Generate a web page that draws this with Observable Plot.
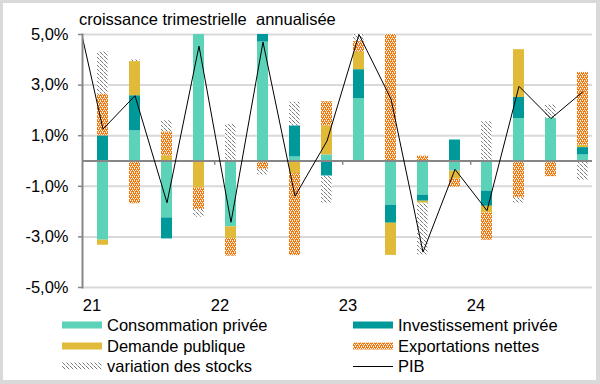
<!DOCTYPE html>
<html><head><meta charset="utf-8">
<script src="https://cdn.jsdelivr.net/npm/d3@7"></script>
<script src="https://cdn.jsdelivr.net/npm/@observablehq/plot@0.6"></script>
<style>
body{margin:0;font-family:"Liberation Sans",Arial,sans-serif;background:#fff}
#wrap{position:relative;width:600px;height:384px;overflow:hidden;background:#fff}
#chart{position:absolute;left:0;top:0}
#border{position:absolute;left:0;top:0;width:600px;height:384px;box-sizing:border-box;border-style:solid;border-color:#d9d9d9;border-width:3px 4px 4px 3px;pointer-events:none}
#title{position:absolute;left:79px;top:11px;font-size:16.5px;line-height:16px;white-space:pre;color:#000}
.leg{position:absolute;height:16px;font-size:16.5px;line-height:16px;display:flex;align-items:center;white-space:nowrap;color:#000}
.leg svg{margin-right:5px;display:block}
</style></head>
<body>
<svg width="0" height="0" style="position:absolute">
<defs>
<pattern id="pExp" width="4" height="4" patternUnits="userSpaceOnUse"><rect width="4" height="4" fill="#f07a10"/><rect x="0" y="0" width="1" height="1" fill="#ffffff"/><rect x="2" y="0" width="1" height="1" fill="#ffffff"/><rect x="1" y="2" width="1" height="1" fill="#ffffff"/><rect x="3" y="2" width="1" height="1" fill="#ffffff"/><rect x="0" y="1" width="1" height="1" fill="#fbd9b8"/><rect x="2" y="3" width="1" height="1" fill="#fbd9b8"/></pattern>
<pattern id="pStk" width="4" height="4" patternUnits="userSpaceOnUse"><rect width="4" height="4" fill="#ffffff"/><path d="M0,0L3.5,3.5" stroke="#7a7a7a" stroke-width="1"/></pattern>
</defs></svg>
<div id="wrap">
<div id="chart"></div>
<div id="title">croissance trimestrielle  annualisée</div>
<div id="legend"></div>
<div id="border"></div>
</div>
<script>
// Quarters (first one only carries the PIB line entering from the left edge)
const quarters = ["20T4","21T1","21T2","21T3","21T4","22T1","22T2","22T3","22T4","23T1","23T2","23T3","23T4","24T1","24T2","24T3","24T4"];
const barQuarters = quarters.slice(1);
const yearTicks = ["21T1","22T1","23T1","24T1"];
const yearLabels = ["21","22","23","24"];
const yTicks = [-5,-3,-1,1,3,5];

const seriesNames = ["Consommation privée","Investissement privée","Demande publique","Exportations nettes","variation des stocks"];
const seriesFills = ["#5cd3b8","#00999a","#e2ba3a","url(#pExp)","url(#pStk)"];

const consommation = [-3.13, 1.19, -2.25, 6.7, -2.6, 4.7, 0.16, 0.24, 2.47, -1.75, -1.35, -0.4, -1.19, 1.68, 1.69, 0.24];
const investissement = [0.99, 1.39, -0.83, -0.04, 0, 0.55, 1.23, -0.6, 1.14, -0.71, -0.24, 0.83, -0.6, 0.83, 0, 0.29];
const demandePublique = [-0.2, 1.35, 0.2, -1.03, -0.46, 0, -0.5, 1.15, 0.69, -1.27, -0.08, -0.32, -0.26, 1.89, 0, 0.09];
const exportations = [1.65, -1.69, 0.95, -0.85, -0.7, -0.33, -3.24, 0.95, 0.42, 6.2, 0.19, -0.32, -1.08, -1.46, -0.62, 2.88];
const stocks = [1.68, 0.08, 0.44, -0.3, 1.45, -0.22, 0.93, -1.06, 0.28, 0, -2.04, 0, 1.55, -0.2, 0.52, -0.77];
const pib = [6.9, 1.26, 2.58, -1.65, 4.54, -2.42, 4.7, -1.39, 0.79, 5.0, 2.45, -3.6, -0.33, -1.96, 2.95, 1.68, 2.74];

const seriesValues = [consommation, investissement, demandePublique, exportations, stocks];
const rows = [];
barQuarters.forEach((q, i) => {
  seriesNames.forEach((s, k) => rows.push({q, s, v: seriesValues[k][i]}));
});
const pibRows = quarters.map((q, i) => ({q, v: pib[i]}));

const fmt = d => d.toFixed(1).replace(".", ",") + "%";

const chart = Plot.plot({
  width: 600, height: 384,
  marginLeft: 82, marginRight: 8, marginTop: 34, marginBottom: 97,
  style: {fontFamily: "'Liberation Sans', Arial, sans-serif", fontSize: "16.5px", background: "transparent"},
  x: {type: "band", domain: quarters, range: [49.1, 603.3], paddingInner: 0.66, paddingOuter: 0.33, axis: null},
  y: {domain: [-5, 5], axis: null},
  color: {type: "ordinal", domain: seriesNames, range: seriesFills},
  marks: [
    Plot.ruleY(yTicks, {stroke: "#d9d9d9", strokeWidth: 2}),
    Plot.barY(rows, {x: "q", y: "v", fill: "s", clip: true}),
    Plot.ruleY([0], {stroke: "#868686", strokeWidth: 2}),
    Plot.ruleX(yearTicks.slice(1), {x: d => d, y1: 0, y2: -0.17, dx: -16.3, stroke: "#868686", strokeWidth: 1.5}),
    Plot.lineY(pibRows, {x: "q", y: "v", stroke: "#000", strokeWidth: 1, clip: true}),
    Plot.frame({anchor: "left", stroke: "#868686", strokeWidth: 2}),
    Plot.axisY({ticks: yTicks, tickFormat: fmt, tickSize: 4, tickPadding: 10, fontSize: 16.5, stroke: "#868686", strokeWidth: 1.5, fill: "#000", label: null}),
    Plot.axisX({ticks: yearTicks, tickFormat: q => yearLabels[yearTicks.indexOf(q)], tickSize: 0, tickPadding: 12, dx: -11, fontSize: 16.5, fill: "#000", label: null})
  ]
});
document.getElementById("chart").appendChild(chart);

// Legend
const legendItems = [
  {name: seriesNames[0], fill: seriesFills[0], x: 62, y: 325},
  {name: seriesNames[1], fill: seriesFills[1], x: 353, y: 325},
  {name: seriesNames[2], fill: seriesFills[2], x: 62, y: 345.5},
  {name: seriesNames[3], fill: seriesFills[3], x: 353, y: 345.5},
  {name: seriesNames[4], fill: seriesFills[4], x: 62, y: 366},
  {name: "PIB", line: true, x: 353, y: 366}
];
const leg = document.getElementById("legend");
legendItems.forEach(it => {
  const d = document.createElement("div");
  d.className = "leg";
  d.style.left = it.x + "px";
  d.style.top = (it.y - 8) + "px";
  const sw = it.line
    ? `<svg width="40" height="8"><line x1="0" x2="40" y1="4.5" y2="4.5" stroke="#000" stroke-width="1"/></svg>`
    : `<svg width="40" height="8"><rect x="0" y="0.5" width="40" height="7" fill="${it.fill}"/></svg>`;
  d.innerHTML = sw + `<span>${it.name}</span>`;
  leg.appendChild(d);
});
</script>
</body></html>
